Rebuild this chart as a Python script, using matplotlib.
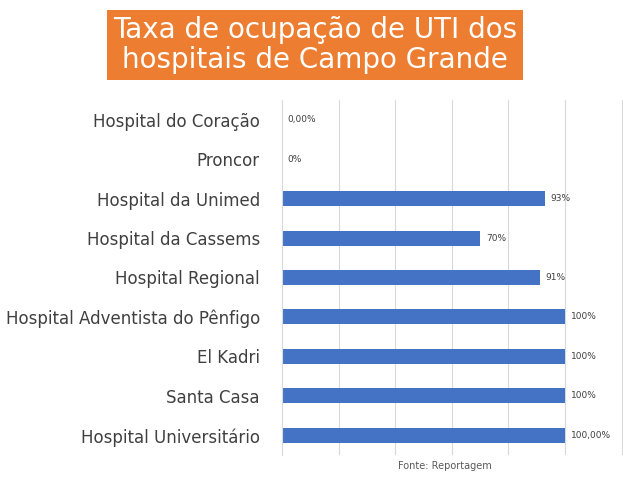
import matplotlib
matplotlib.use("Agg")
import matplotlib.pyplot as plt

categories = ["Hospital do Coração", "Proncor", "Hospital da Unimed", "Hospital da Cassems",
              "Hospital Regional", "Hospital Adventista do Pênfigo", "El Kadri", "Santa Casa",
              "Hospital Universitário"]
values = [0, 0, 93, 70, 91, 100, 100, 100, 100]
labels = ["0,00%", "0%", "93%", "70%", "91%", "100%", "100%", "100%", "100,00%"]

fig = plt.figure(figsize=(6.23, 4.80), dpi=100)
ax = fig.add_axes([282/623, 1-455/480, (623-282)/623, 355/480])
y = list(range(len(categories)))[::-1]
ax.barh(y, values, height=0.38, color="#4472C4")
for yi, v, l in zip(y, values, labels):
    ax.text(v + 2, yi, l, va="center", ha="left", fontsize=6.5, color="#404040")
ax.set_xlim(0, 120.5)
ax.set_ylim(-0.5, 8.5)
ax.set_yticks(y)
ax.set_yticklabels(categories, fontsize=12, color="#404040")
ax.set_xticks([20, 40, 60, 80, 100, 120])
ax.set_xticklabels([])
ax.tick_params(length=0, pad=16)
ax.grid(axis="x", color="#d9d9d9", lw=0.8)
ax.set_axisbelow(True)
for s in ["top", "right", "bottom"]:
    ax.spines[s].set_visible(False)
ax.spines["left"].set_color("#d9d9d9")

fig.text(315/623, 1-45/480, "Taxa de ocupação de UTI dos\nhospitais de Campo Grande",
         ha="center", va="center", fontsize=20, color="white", linespacing=1.1,
         bbox=dict(boxstyle="square,pad=0.2", fc="#ED7D31", ec="none"))
fig.text(445/623, 1-466/480, "Fonte: Reportagem", ha="center", va="center",
         fontsize=7, color="#595959")
fig.savefig("out.png", dpi=100)
